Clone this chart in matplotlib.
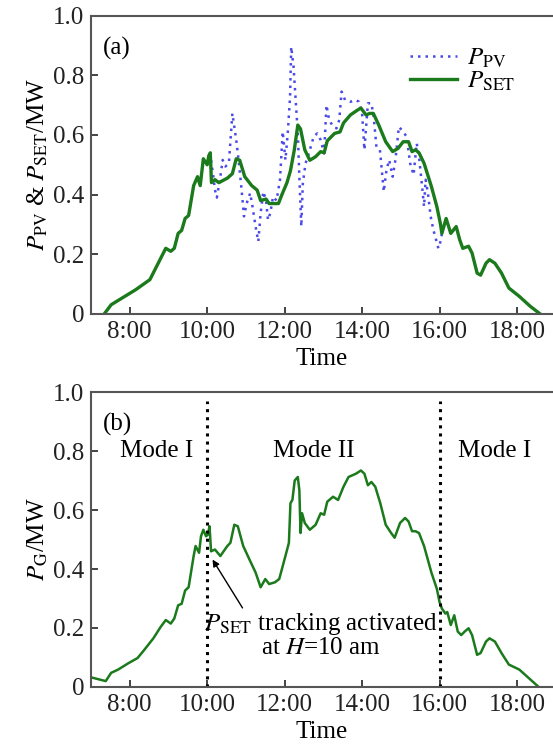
import numpy as np
import matplotlib.pyplot as plt

plt.rcParams['font.family'] = ['Liberation Serif', 'DejaVu Serif']
plt.rcParams['mathtext.fontset'] = 'stix'

# P_SET (panel a), hours
t_set = [7.34, 7.52, 8.15, 8.52, 8.93, 9.06, 9.15, 9.25, 9.34, 9.43, 9.52, 9.65, 9.75,
         9.82, 9.9, 10.0, 10.04, 10.08, 10.11, 10.2, 10.3, 10.52, 10.65, 10.75, 10.84,
         10.97, 11.15, 11.29, 11.38, 11.52, 11.6, 11.84, 11.93, 12.06, 12.15, 12.25,
         12.34, 12.41, 12.52, 12.65, 12.8, 12.93, 13.02, 13.1, 13.29, 13.43, 13.52,
         13.7, 13.88, 13.97, 14.1, 14.2, 14.29, 14.43, 14.61, 14.79, 14.93, 15.06,
         15.2, 15.29, 15.38, 15.47, 15.6, 15.79, 15.93, 16.02, 16.06, 16.17, 16.29,
         16.43, 16.52, 16.6, 16.75, 16.84, 16.97, 17.06, 17.2, 17.29, 17.43, 17.6,
         17.79, 18.06, 18.34, 18.6]
p_set = [0.0, 0.031, 0.081, 0.115, 0.22, 0.21, 0.22, 0.27, 0.28, 0.32, 0.33, 0.43, 0.46,
         0.43, 0.52, 0.50, 0.53, 0.54, 0.44, 0.45, 0.44, 0.455, 0.47, 0.52, 0.515,
         0.46, 0.43, 0.415, 0.38, 0.385, 0.37, 0.37, 0.40, 0.44, 0.48, 0.55,
         0.633, 0.62, 0.55, 0.515, 0.527, 0.544, 0.54, 0.58, 0.605, 0.61, 0.64,
         0.667, 0.683, 0.69, 0.667, 0.672, 0.672, 0.633, 0.577, 0.544, 0.555, 0.577,
         0.577, 0.544, 0.55, 0.54, 0.505, 0.427, 0.36, 0.304, 0.27, 0.32, 0.27,
         0.293, 0.249, 0.22, 0.227, 0.204, 0.137, 0.13, 0.17, 0.182, 0.17, 0.137,
         0.087, 0.059, 0.026, 0.0]

# P_PV where it differs from P_SET
t_pv = [10.08, 10.11, 10.15, 10.2, 10.25, 10.34, 10.4, 10.47, 10.56, 10.65, 10.75, 10.81,
        10.88, 10.95, 11.02, 11.11, 11.17, 11.25, 11.32, 11.38, 11.45, 11.52, 11.57,
        11.63, 11.7, 11.79, 11.88, 11.95, 12.02, 12.08, 12.14, 12.17, 12.23, 12.29,
        12.34, 12.38, 12.43, 12.47, 12.54, 12.6, 12.75, 12.84, 12.93, 13.02, 13.08,
        13.15, 13.25, 13.34, 13.41, 13.47, 13.56, 13.7, 13.83, 13.92, 14.0, 14.06,
        14.15, 14.24, 14.3, 14.37, 14.46, 14.56, 14.63, 14.7, 14.79, 14.86, 14.95,
        15.06, 15.15, 15.24, 15.33, 15.41, 15.47, 15.55, 15.6, 15.64, 15.7, 15.77,
        15.84, 15.9, 15.97, 16.04, 16.06]
p_pv = [0.54, 0.505, 0.47, 0.416, 0.39, 0.46, 0.516, 0.494, 0.505, 0.672, 0.583, 0.516,
        0.427, 0.327, 0.371, 0.405, 0.36, 0.293, 0.243, 0.338, 0.41, 0.38, 0.315,
        0.338, 0.393, 0.38, 0.45, 0.611, 0.516, 0.605, 0.728, 0.895, 0.828, 0.706,
        0.605, 0.46, 0.293, 0.438, 0.505, 0.527, 0.594, 0.605, 0.583, 0.538, 0.70,
        0.65, 0.628, 0.622, 0.65, 0.745, 0.717, 0.711, 0.717, 0.711, 0.672, 0.55,
        0.706, 0.706, 0.66, 0.56, 0.55, 0.41, 0.483, 0.516, 0.46, 0.516, 0.627,
        0.611, 0.594, 0.505, 0.466, 0.572, 0.527, 0.427, 0.36, 0.45, 0.405, 0.327,
        0.282, 0.254, 0.22, 0.249, 0.27]

# P_G (panel b)
t_g = [7.0, 7.05, 7.2, 7.38, 7.52, 7.7, 7.97, 8.2, 8.34, 8.61, 8.8, 8.93, 9.06, 9.15,
       9.25, 9.34, 9.43, 9.52, 9.65, 9.7, 9.79, 9.84, 9.9, 9.97, 10.02, 10.06, 10.1,
       10.2, 10.34, 10.52, 10.6, 10.7, 10.79, 10.93, 11.11, 11.25, 11.38, 11.5, 11.6,
       11.75, 11.86, 11.93, 12.02, 12.11, 12.15, 12.2, 12.26, 12.34, 12.38, 12.41,
       12.45, 12.52, 12.65, 12.8, 12.93, 13.02, 13.1, 13.25, 13.38, 13.52, 13.65,
       13.84, 13.97, 14.06, 14.15, 14.24, 14.34, 14.47, 14.61, 14.75, 14.84, 14.98,
       15.11, 15.2, 15.29, 15.38, 15.47, 15.6, 15.79, 15.93, 16.0, 16.06, 16.15,
       16.2, 16.29, 16.38, 16.47, 16.56, 16.65, 16.75, 16.84, 16.97, 17.06, 17.2,
       17.29, 17.43, 17.6, 17.79, 18.06, 18.34, 18.56]
p_g = [0.033, 0.031, 0.026, 0.02, 0.048, 0.059, 0.081, 0.098, 0.12, 0.165, 0.204, 0.227,
       0.215, 0.232, 0.277, 0.282, 0.327, 0.338, 0.444, 0.478, 0.455, 0.511, 0.533,
       0.511, 0.517, 0.545, 0.46, 0.466, 0.444, 0.478, 0.489, 0.55, 0.545, 0.478,
       0.427, 0.388, 0.338, 0.366, 0.349, 0.355, 0.366, 0.4, 0.444, 0.489, 0.623,
       0.634, 0.7, 0.712, 0.667, 0.522, 0.589, 0.556, 0.533, 0.55, 0.589, 0.584,
       0.628, 0.645, 0.634, 0.679, 0.712, 0.723, 0.734, 0.723, 0.684, 0.695, 0.679,
       0.623, 0.55, 0.522, 0.506, 0.556, 0.573, 0.561, 0.528, 0.528, 0.522, 0.478,
       0.388, 0.333, 0.288, 0.266, 0.249, 0.254, 0.21, 0.243, 0.188, 0.176, 0.188,
       0.199, 0.176, 0.109, 0.115, 0.154, 0.165, 0.154, 0.115, 0.076, 0.059, 0.026,
       0.0]

xticks = [8, 10, 12, 14, 16, 18]
xticklabels = ['8:00', '10:00', '12:00', '14:00', '16:00', '18:00']
yticks = [0, 0.2, 0.4, 0.6, 0.8, 1.0]
yticklabels = ['0', '0.2', '0.4', '0.6', '0.8', '1.0']

green = '#1b7a1b'
blue = '#4a4ae8'
fs = 18


def style(ax):
    ax.set_xlim(7.0, 18.93)
    ax.set_ylim(0, 1.0)
    ax.set_xticks(xticks)
    ax.set_xticklabels(xticklabels)
    ax.set_yticks(yticks)
    ax.set_yticklabels(yticklabels)
    ax.tick_params(direction='in', labelsize=fs, length=5, width=1.2, colors='#222222',
                   pad=5)
    for s in ['left', 'bottom', 'top']:
        ax.spines[s].set_color('#555555')
        ax.spines[s].set_linewidth(1.5)
    ax.spines['right'].set_visible(False)
    ax.set_xlabel('Time', fontsize=fs, labelpad=4)


fig = plt.figure(figsize=(5.53, 7.49), dpi=100)

ax1 = fig.add_axes([0.1646, 0.5808, 0.8354, 0.3985])
ax1.plot(t_pv, p_pv, color=blue, linestyle=(0, (1, 2)), linewidth=1.8, label=r'$\mathit{P}_{\mathrm{PV}}$')
ax1.plot(t_set, p_set, color=green, linewidth=2.4, label=r'$\mathit{P}_{\mathrm{SET}}$')
style(ax1)
ax1.set_ylabel(r'$\mathit{P}_{\mathrm{PV}}$ & $\mathit{P}_{\mathrm{SET}}$/MW', fontsize=fs, labelpad=2)
ax1.text(0.025, 0.89, '(a)', transform=ax1.transAxes, fontsize=fs, va='center')
ax1.legend(loc='upper right', bbox_to_anchor=(0.94, 0.93), frameon=False, fontsize=fs,
           handlelength=1.9, handletextpad=0.4, labelspacing=0.0, borderaxespad=0)

ax2 = fig.add_axes([0.1646, 0.0828, 0.8354, 0.3938])
ax2.plot(t_g, p_g, color=green, linewidth=1.8)
ax2.plot([10, 10], [0, 0.97], color='black', linestyle=':', linewidth=2.2)
ax2.plot([16, 16], [0, 0.97], color='black', linestyle=':', linewidth=2.2)
style(ax2)
ax2.set_ylabel(r'$\mathit{P}_{\mathrm{G}}$/MW', fontsize=fs, labelpad=2)
ax2.text(0.025, 0.89, '(b)', transform=ax2.transAxes, fontsize=fs, va='center')
ax2.text(8.7, 0.8, 'Mode I', fontsize=fs, ha='center', va='center')
ax2.text(12.75, 0.8, 'Mode II', fontsize=fs, ha='center', va='center')
ax2.text(17.43, 0.8, 'Mode I', fontsize=fs, ha='center', va='center')
ax2.annotate('', xy=(10.1, 0.44), xytext=(10.95, 0.26),
             arrowprops=dict(arrowstyle='-|>', color='black', lw=1.0, mutation_scale=10))
ax2.text(12.94, 0.175, r'$\mathit{P}_{\mathrm{SET}}$ tracking activated' + '\n' + r'at $\mathit{H}$=10 am',
         fontsize=fs, ha='center', va='center', linespacing=1.0)

fig.savefig('out.png', dpi=100)
